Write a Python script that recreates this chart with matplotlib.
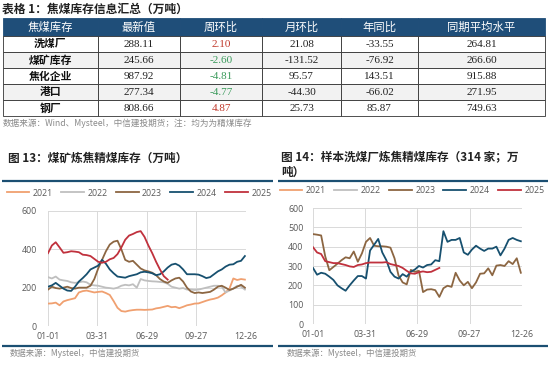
import numpy as np
import matplotlib
matplotlib.use('Agg')
import matplotlib.pyplot as plt
from matplotlib.patches import Rectangle

plt.rcParams['font.family'] = ['Noto Sans CJK SC', 'DejaVu Sans']

# TABELA: informações de estoque de carvão de coque
cabecalho = ['焦煤库存', '最新值', '周环比', '月环比', '年同比', '同期平均水平']
linhas = ['洗煤厂', '煤矿库存', '焦化企业', '港口', '钢厂']
ultimo = [288.11, 245.66, 987.92, 277.34, 808.66]
semanal = [2.10, -2.60, -4.81, -4.77, 4.87]
mensal = [21.08, -131.52, 95.57, -44.30, 25.73]
anual = [-33.55, -76.92, 143.51, -66.02, 85.87]
media = [264.81, 266.60, 915.88, 271.95, 749.63]

# GRÁFICO 13: estoque nas minas (semanal)
anos = ['2021', '2022', '2023', '2024', '2025']
cores = ['#f0a070', '#bfbfbf', '#8c6642', '#17506f', '#c0313d']
minas = {
    '2021': [117, 118, 122, 108, 128, 135, 140, 145, 175, 182, 185, 180, 175, 178,
             180, 172, 162, 130, 95, 78, 75, 80, 83, 85, 85, 84, 85, 86, 92, 95,
             100, 105, 98, 100, 93, 100, 108, 112, 117, 118, 125, 132, 138, 142,
             148, 160, 175, 195, 248, 240, 245, 242],
    '2022': [255, 248, 258, 242, 238, 235, 228, 225, 228, 232, 228, 215, 212, 210,
             205, 200, 198, 195, 200, 210, 215, 212, 218, 200, 245, 238, 235, 233,
             232, 230, 228, 220, 205, 200, 195, 198, 190, 190, 188, 190, 195, 200,
             205, 210, 210, 205, 175, 185, 195, 210, 205, 190],
    '2023': [190, 205, 198, 195, 200, 205, 198, 195, 200, 200, 200, 210, 245, 300,
             345, 390, 425, 440, 445, 400, 345, 335, 340, 320, 300, 290, 285, 278,
             265, 245, 232, 225, 238, 248, 252, 232, 200, 180, 172, 175, 172, 175,
             178, 190, 205, 210, 200, 188, 195, 205, 215, 200],
    '2024': [205, 212, 225, 210, 195, 185, 183, 205, 232, 250, 270, 295, 305, 315,
             345, 325, 295, 275, 258, 255, 252, 260, 265, 270, 280, 283, 280, 275,
             265, 270, 285, 305, 320, 325, 315, 295, 270, 270, 270, 268, 260, 250,
             255, 270, 285, 295, 310, 320, 322, 335, 340, 365],
    '2025': [380, 420, 437, 410, 382, 385, 390, 388, 385, 372, 370, 365, 350, 335,
             330, 335, 348, 355, 375, 410, 450, 472, 480, 490, 495, 465, 420, 380,
             335, 295, 260, 242],
}

# GRÁFICO 14: estoque nos lavadores de carvão (semanal)
lavadores = {
    '2021': [],
    '2022': [],
    '2023': [465, 462, 458, 350, 278, 295, 312, 330, 345, 340, 375, 322, 365, 425,
             445, 405, 402, 402, 400, 395, 340, 250, 215, 205, 280, 270, 275, 165,
             178, 180, 175, 140, 185, 198, 192, 265, 225, 200, 218, 185, 215, 260,
             262, 288, 252, 302, 305, 300, 325, 310, 340, 265],
    '2024': [290, 255, 265, 260, 245, 228, 200, 185, 172, 200, 225, 248, 248, 235,
             380, 410, 440, 370, 330, 270, 245, 235, 258, 245, 270, 282, 300, 292,
             305, 308, 330, 325, 480, 425, 435, 435, 445, 370, 358, 385, 405, 390,
             378, 390, 390, 400, 355, 390, 435, 445, 435, 428],
    '2025': [397, 370, 362, 325, 320, 315, 315, 310, 305, 298, 295, 305, 308, 315,
             318, 318, 318, 318, 320, 310, 305, 300, 290, 275, 262, 260, 268, 272,
             268, 270, 280, 290],
}

ticks_dias = [0, 89, 179, 269, 359]
ticks_rotulos = ['01-01', '03-31', '06-29', '09-27', '12-26']

azul = '#1b4f72'
cinza_txt = '#595959'

fig = plt.figure(figsize=(5.49, 3.65), dpi=100)
fig.patch.set_facecolor('white')

# camada de fundo em pixels para tabela, títulos e linhas
tela = fig.add_axes([0, 0, 1, 1])
tela.set_xlim(0, 549)
tela.set_ylim(365, 0)
tela.axis('off')

tela.text(2, 9, '表格 1：焦煤库存信息汇总（万吨）', fontsize=8.5, fontweight='bold',
          va='center', ha='left', color='#222222')

col_x = [3, 98, 180, 262, 341, 418, 545]
lin_y = [18, 35.5, 52, 68, 84, 100, 115.5]

for j, titulo in enumerate(cabecalho):
    tela.add_patch(Rectangle((col_x[j], lin_y[0]), col_x[j + 1] - col_x[j],
                             lin_y[1] - lin_y[0], facecolor='#1f4e79',
                             edgecolor='#1f4e79', lw=0.6))
    tela.text((col_x[j] + col_x[j + 1]) / 2, (lin_y[0] + lin_y[1]) / 2 + 0.5, titulo,
              color='white', fontsize=8.2, ha='center', va='center')

for i, nome in enumerate(linhas):
    fundo = '#f2f2f2' if i % 2 == 1 else 'white'
    valores = [ultimo[i], semanal[i], mensal[i], anual[i], media[i]]
    for j in range(6):
        tela.add_patch(Rectangle((col_x[j], lin_y[i + 1]), col_x[j + 1] - col_x[j],
                                 lin_y[i + 2] - lin_y[i + 1], facecolor=fundo,
                                 edgecolor='#333333', lw=0.6))
    yc = (lin_y[i + 1] + lin_y[i + 2]) / 2 + 0.5
    tela.text((col_x[0] + col_x[1]) / 2, yc, nome, fontsize=7.8, fontweight='bold',
              ha='center', va='center', color='#111111')
    for j, v in enumerate(valores):
        cor = '#222222'
        if j == 1:
            cor = '#c0392b' if v > 0 else '#3a9a5b'
        tela.text((col_x[j + 1] + col_x[j + 2]) / 2, yc, f'{v:.2f}', fontsize=8,
                  family='Liberation Serif', ha='center', va='center', color=cor)

tela.text(3, 123, '数据来源：Wind、Mysteel，中信建投期货；注：均为为精煤库存', fontsize=6.2,
          color='#8a8a8a', ha='left', va='center', style='italic')

# títulos dos gráficos
tela.text(8, 158, '图 13：煤矿炼焦精煤库存（万吨）', fontsize=8.4, fontweight='bold',
          ha='left', va='center', color='#222222')
tela.text(281, 158, '图 14：样本洗煤厂炼焦精煤库存（314 家；万', fontsize=8.4,
          fontweight='bold', ha='left', va='center', color='#222222')
tela.text(281, 172, '吨）', fontsize=8.4, fontweight='bold', ha='left', va='center',
          color='#222222')

# linhas azuis de separação
for x0, x1 in [(2, 273), (278, 548)]:
    tela.plot([x0, x1], [181, 181], color=azul, lw=1.6, solid_capstyle='butt')
    tela.plot([x0, x1], [346, 346], color=azul, lw=1.6, solid_capstyle='butt')

tela.text(10, 353, '数据来源：Mysteel，中信建投期货', fontsize=6, color='#8a8a8a',
          ha='left', va='center', style='italic')
tela.text(287, 353, '数据来源：Mysteel，中信建投期货', fontsize=6, color='#8a8a8a',
          ha='left', va='center', style='italic')


def desenha(ax, dados, ymax, passo, pad_y, legenda_xy):
    for ano, cor in zip(anos, cores):
        valores = dados[ano]
        dias = np.arange(len(valores)) * 7
        ax.plot(dias, valores, color=cor, lw=1.3, label=ano)
    ax.set_xlim(0, 359)
    ax.set_ylim(0, ymax)
    ax.set_xticks(ticks_dias)
    ax.set_xticklabels(ticks_rotulos)
    ax.set_yticks(np.arange(0, ymax + 1, passo))
    ax.grid(True, color='#d9d9d9', lw=0.7)
    ax.set_axisbelow(True)
    for s in ax.spines.values():
        s.set_visible(False)
    ax.tick_params(axis='both', length=0, labelsize=6.4, colors=cinza_txt)
    ax.tick_params(axis='x', pad=4.2)
    ax.tick_params(axis='y', pad=pad_y)
    for lab in ax.get_xticklabels() + ax.get_yticklabels():
        lab.set_family('Open Sans')
    ax.legend(loc='center', bbox_to_anchor=legenda_xy, bbox_transform=fig.transFigure,
              ncol=5, frameon=False, handlelength=2.6,
              handletextpad=0.4, columnspacing=0.95, labelcolor=cinza_txt,
              prop={'family': 'Open Sans', 'size': 6.3})


ax1 = fig.add_axes([48 / 549, 1 - 326 / 365, 198 / 549, 115 / 365])
desenha(ax1, minas, 600, 200, 8, (139 / 549, 1 - 193 / 365))

ax2 = fig.add_axes([313 / 549, 1 - 324 / 365, 209 / 549, 116 / 365])
desenha(ax2, lavadores, 600, 100, 7, (412 / 549, 1 - 191 / 365))

plt.savefig('out.png', dpi=100, facecolor='white')
